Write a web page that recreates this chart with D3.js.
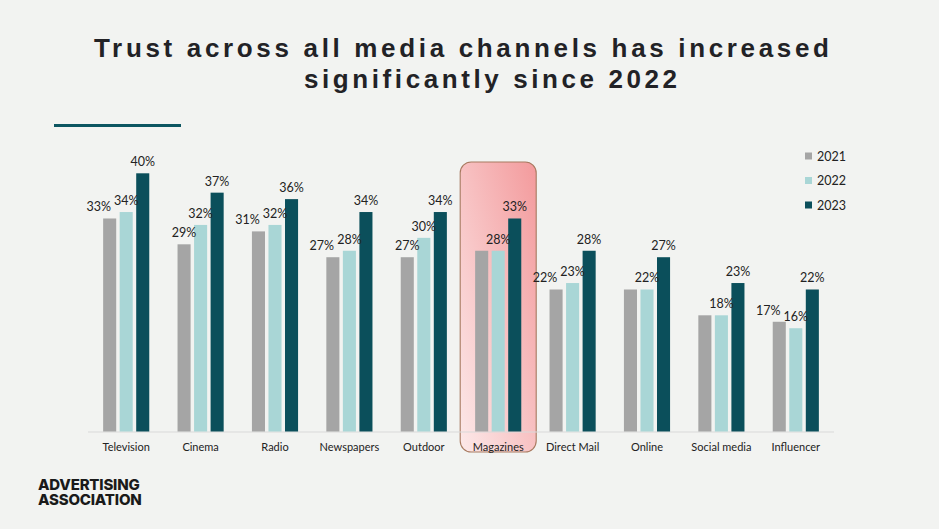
<!DOCTYPE html>
<html lang="en">
<head>
  <meta charset="UTF-8">
  <title>Trust across all media channels</title>
  <script src="https://d3js.org/d3.v7.min.js"></script>
  <style>
    html, body { margin: 0; padding: 0; background: #f2f3f1; }
    svg { display: block; }
  </style>
</head>
<body>
  <div id="chart"></div>

  <script>
    // Data
    const categories = ["Television", "Cinema", "Radio", "Newspapers", "Outdoor",
                        "Magazines", "Direct Mail", "Online", "Social media", "Influencer"];
    const years = ["2021", "2022", "2023"];
    const values2021 = [33, 29, 31, 27, 27, 28, 22, 22, 18, 17];
    const values2022 = [34, 32, 32, 28, 30, 28, 23, 22, 18, 16];
    const values2023 = [40, 37, 36, 34, 34, 33, 28, 27, 23, 22];
    const highlighted = "Magazines";
    const titleLines = ["Trust across all media channels has increased", "significantly since 2022"];

    const colors = { "2021": "#a5a5a5", "2022": "#a9d6d6", "2023": "#0b4f5b" };
    const seriesValues = { "2021": values2021, "2022": values2022, "2023": values2023 };

    const width = 939, height = 529;
    const labelFont = "Lato, 'Open Sans', sans-serif";

    const svg = d3.select("#chart").append("svg")
        .attr("width", width)
        .attr("height", height);

    svg.append("rect").attr("width", width).attr("height", height).attr("fill", "#f2f3f1");

    // Title, two lines, spaced out
    svg.append("text")
        .attr("x", 94).attr("y", 57)
        .attr("textLength", 735).attr("lengthAdjust", "spacing")
        .style("font-family", "'Liberation Sans', Arial, sans-serif")
        .style("font-weight", "bold").style("font-size", "26px")
        .attr("fill", "#222226")
        .text(titleLines[0]);
    svg.append("text")
        .attr("x", 304).attr("y", 88)
        .attr("textLength", 373).attr("lengthAdjust", "spacing")
        .style("font-family", "'Liberation Sans', Arial, sans-serif")
        .style("font-weight", "bold").style("font-size", "26px")
        .attr("fill", "#222226")
        .text(titleLines[1]);

    // accent rule under the title
    svg.append("line")
        .attr("x1", 54).attr("x2", 181).attr("y1", 125.5).attr("y2", 125.5)
        .attr("stroke", "#0d5661").attr("stroke-width", 3);

    // Scales
    const x0 = d3.scaleBand()
        .domain(categories)
        .range([89, 833])
        .paddingInner(0.38)
        .paddingOuter(0.19);

    const x1 = d3.scaleBand()
        .domain(years)
        .range([0, x0.bandwidth()])
        .paddingInner(0.21);

    const y = d3.scaleLinear().domain([0, 40]).range([431.5, 173.3]);

    // Highlight box behind Magazines
    const defs = svg.append("defs");
    const grad = defs.append("linearGradient")
        .attr("id", "hl").attr("x1", "0%").attr("y1", "100%").attr("x2", "100%").attr("y2", "0%");
    grad.append("stop").attr("offset", "0%").attr("stop-color", "#fce9e9");
    grad.append("stop").attr("offset", "100%").attr("stop-color", "#f39a9c");

    const hx = x0(highlighted) + x0.bandwidth() / 2;
    svg.append("rect")
        .attr("x", hx - 38).attr("y", 162)
        .attr("width", 76).attr("height", 290)
        .attr("rx", 11).attr("ry", 11)
        .attr("fill", "url(#hl)")
        .attr("stroke", "#a87a60").attr("stroke-width", 1.1);

    // Baseline
    svg.append("line")
        .attr("x1", 88).attr("x2", 834)
        .attr("y1", y(0) + 0.5).attr("y2", y(0) + 0.5)
        .attr("stroke", "#d9d9d9").attr("stroke-width", 1);

    // Bars
    const groups = svg.append("g").selectAll("g")
        .data(categories)
        .join("g")
        .attr("transform", d => `translate(${x0(d)},0)`);

    groups.selectAll("rect")
        .data((d, i) => years.map(yr => ({ year: yr, value: seriesValues[yr][i] })))
        .join("rect")
        .attr("x", d => x1(d.year))
        .attr("y", d => y(d.value))
        .attr("width", x1.bandwidth())
        .attr("height", d => y(0) - y(d.value))
        .attr("fill", d => colors[d.year]);

    // Value labels: the 2021 label steps aside when it would collide with 2022's
    groups.selectAll("text.val")
        .data((d, i) => years.map(yr => ({
            year: yr,
            value: seriesValues[yr][i],
            diff: values2021[i] - values2022[i]
        })).filter(d => !(d.year === "2021" && d.diff === 0)))
        .join("text")
        .attr("class", "val")
        .attr("x", d => x1(d.year) + x1.bandwidth() / 2 - (d.year === "2021" && Math.abs(d.diff) <= 1 ? 11 : 0))
        .attr("y", d => y(d.value) - 7)
        .attr("text-anchor", "middle")
        .style("font-family", labelFont)
        .style("font-size", "12.5px")
        .attr("fill", "#222")
        .text(d => d.value + "%");

    // Category axis labels
    const xAxis = d3.axisBottom(x0).tickSize(0).tickPadding(0);
    const axisG = svg.append("g")
        .attr("transform", `translate(0,${y(0)})`)
        .call(xAxis);
    axisG.select(".domain").remove();
    axisG.selectAll("text")
        .attr("dy", null)
        .attr("y", 19)
        .style("font-family", labelFont)
        .style("font-size", "11px")
        .attr("fill", "#222");

    // Legend
    const legendY = d3.scalePoint().domain(years).range([156, 205]);
    const legend = svg.append("g").selectAll("g")
        .data(years)
        .join("g")
        .attr("transform", d => `translate(805,${legendY(d)})`);
    legend.append("rect")
        .attr("x", 0).attr("y", -3.5).attr("width", 7).attr("height", 7)
        .attr("fill", d => colors[d]);
    legend.append("text")
        .attr("x", 12).attr("y", 4.5)
        .style("font-family", labelFont)
        .style("font-size", "12.5px")
        .attr("fill", "#222")
        .text(d => d);

    // Logo
    const logo = svg.append("g")
        .style("font-family", "Inter, 'Liberation Sans', sans-serif")
        .style("font-weight", 800)
        .style("font-size", "15px")
        .style("letter-spacing", "-0.2px")
        .attr("fill", "#1a1a1a");
    logo.append("text").attr("x", 38).attr("y", 490).text("ADVERTISING");
    logo.append("text").attr("x", 38).attr("y", 504.5).text("ASSOCIATION");
  </script>
</body>
</html>
